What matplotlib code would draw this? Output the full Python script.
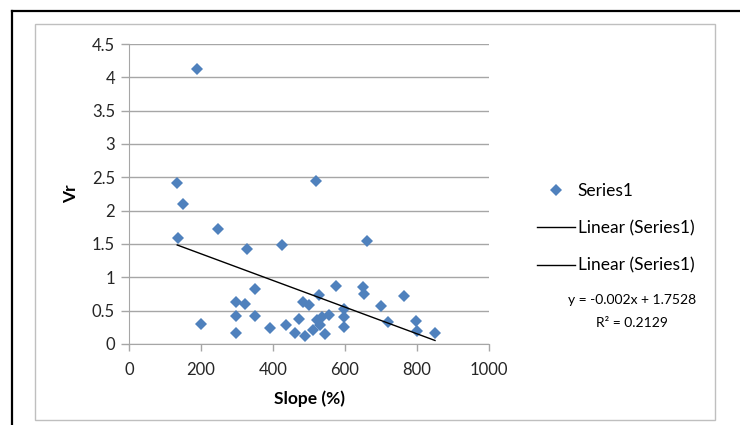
import numpy as np
import matplotlib
matplotlib.use("Agg")
import matplotlib.pyplot as plt
from matplotlib.lines import Line2D
from matplotlib.patches import Rectangle

plt.rcParams['font.family'] = ['Lato', 'DejaVu Sans']

# Slope (%) vs Vr
slope = [188, 134, 149, 137, 246, 328, 425, 519, 660, 199,
         297, 323, 297, 297, 349, 349, 392, 436, 460, 473,
         484, 489, 499, 512, 528, 521, 535, 531, 544, 556,
         575, 598, 598, 598, 649, 652, 701, 719, 763, 798,
         799, 850]
vr = [4.12, 2.42, 2.10, 1.595, 1.72, 1.425, 1.485, 2.445, 1.545, 0.30,
      0.635, 0.595, 0.42, 0.16, 0.83, 0.42, 0.24, 0.28, 0.165, 0.38,
      0.625, 0.115, 0.58, 0.21, 0.73, 0.36, 0.41, 0.285, 0.155, 0.435,
      0.875, 0.53, 0.40, 0.26, 0.86, 0.745, 0.575, 0.335, 0.72, 0.345,
      0.195, 0.16]

# trendline from the displayed equation
trend_slope = -0.002
trend_intercept = 1.7528
r_squared = 0.2129

blue = '#4F81BD'
grid_gray = '#A6A6A6'

fig = plt.figure(figsize=(7.4, 4.25), dpi=100)
ax = fig.add_axes([129 / 740, 81 / 425, 360 / 740, 300 / 425])

# outer black frame and grey chart area
fig.add_artist(Line2D([12 / 740, 1.0], [1 - 11 / 425, 1 - 11 / 425],
                      transform=fig.transFigure, color='black', lw=1.6))
fig.add_artist(Line2D([12 / 740, 12 / 740], [0, 1 - 11 / 425],
                      transform=fig.transFigure, color='black', lw=1.6))
fig.add_artist(Rectangle((35 / 740, 5 / 425), 680 / 740, 396 / 425,
                         transform=fig.transFigure, fill=False,
                         edgecolor='#BFBFBF', lw=1.0))

ax.plot(slope, vr, linestyle='none', marker='D', ms=6.5, color=blue,
        markeredgewidth=0, label='Series1', zorder=3)

xs = np.array([min(slope), max(slope)])
ax.plot(xs, trend_slope * xs + trend_intercept, color='black', lw=1.0,
        label='Linear (Series1)', zorder=4)
ax.plot([], [], color='black', lw=1.0, label='Linear (Series1)')

ax.set_xlim(0, 1000)
ax.set_ylim(0, 4.5)
ax.set_xticks(range(0, 1001, 200))
ax.set_yticks(np.arange(0, 4.51, 0.5))
ax.set_yticklabels(['0', '0.5', '1', '1.5', '2', '2.5', '3', '3.5', '4', '4.5'])
ax.grid(axis='y', color=grid_gray, lw=1.0)
ax.set_axisbelow(True)
for side in ['top', 'right']:
    ax.spines[side].set_visible(False)
for side in ['left', 'bottom']:
    ax.spines[side].set_color(grid_gray)
ax.tick_params(axis='y', length=6, width=1, color=grid_gray, pad=4,
               labelsize=12, labelcolor='#262626')
ax.tick_params(axis='x', length=5, width=1, color=grid_gray, pad=8,
               labelsize=12, labelcolor='#262626')

ax.set_xlabel('Slope (%)', fontsize=12.5, fontweight='bold', labelpad=9)
ax.set_ylabel('Vr', fontsize=12.5, fontweight='bold', labelpad=9)

ax.legend(loc='upper left', bbox_to_anchor=(537 / 740, 1 - 183 / 425),
          bbox_transform=fig.transFigure, frameon=False, fontsize=12.5,
          handlelength=2.2, handletextpad=0.15, labelspacing=1.22,
          borderpad=0, borderaxespad=0)

fig.text(632 / 740, 1 - 300 / 425, 'y = -0.002x + 1.7528', ha='center',
         va='center', fontsize=10)
fig.text(632 / 740, 1 - 323 / 425, 'R² = ' + str(r_squared), ha='center',
         va='center', fontsize=10)

fig.savefig('out.png', dpi=100)
